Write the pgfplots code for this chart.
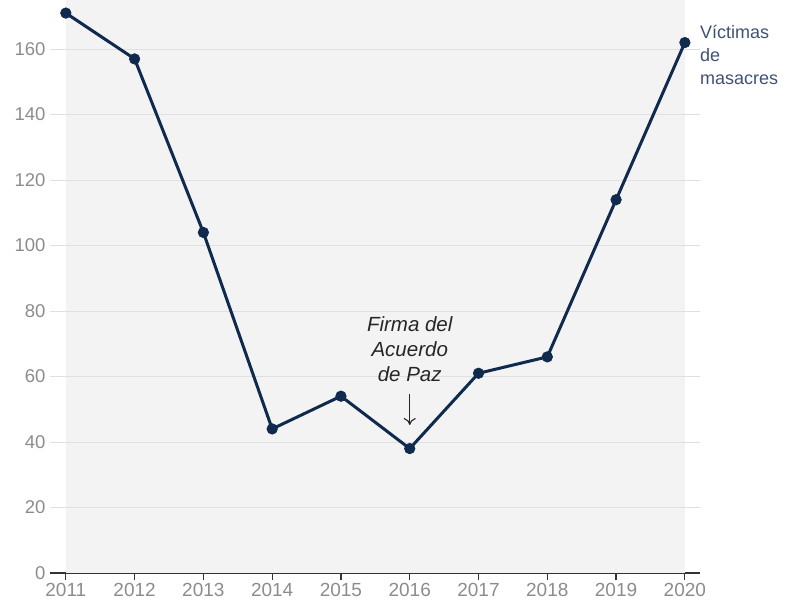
\documentclass[border=0pt]{standalone}
\usepackage{fontspec}
\setmainfont{Liberation Sans}
\usepackage{pgfplots}
\pgfplotsset{compat=1.18}
\usetikzlibrary{arrows.meta}
\definecolor{navy}{HTML}{0F2A4D}
\definecolor{slate}{HTML}{3E5273}
\definecolor{tickgray}{HTML}{8C8C8C}
\definecolor{gridgray}{HTML}{E0E0E0}
\definecolor{bggray}{HTML}{F3F3F3}
\definecolor{axisgray}{HTML}{333333}
\begin{document}
\begin{tikzpicture}[x=1pt,y=1pt]
\begin{axis}[
  at={(0,0)}, anchor=south west,
  scale only axis, width=650pt, height=573pt,
  xmin=2010.77, xmax=2020.22, ymin=0, ymax=175,
  clip=false,
  axis x line*=bottom, axis y line*=left,
  y axis line style={draw=none},
  x axis line style={draw=axisgray, line width=1.2pt, -},
  xtick={2011,...,2020},
  ytick={0,20,...,160},
  xtick align=outside,
  major x tick style={draw=axisgray, line width=1.2pt},
  major y tick style={draw=none},
  major tick length=7pt,
  /pgf/number format/assume math mode=true,
  xticklabel style={/pgf/number format/1000 sep={}, text=tickgray, font=\fontsize{19}{22}\selectfont, yshift=0pt},
  yticklabel style={text=tickgray, font=\fontsize{18.5}{22}\selectfont, xshift=-1pt},
]
\addplot[draw=none, fill=bggray, forget plot] coordinates {(2011,0) (2011,175) (2020,175) (2020,0)} \closedcycle;
\foreach \yy in {20,40,...,160} {
  \edef\tmp{\noexpand\draw[gridgray, line width=1pt] (axis cs:2010.77,\yy) -- (axis cs:2020.22,\yy);}
  \tmp
}
\addplot[navy, line width=3pt, mark=*, mark size=5.3pt, mark options={solid, fill=navy, draw=navy, line width=0.6pt}] coordinates {
(2011,171) (2012,157) (2013,104) (2014,44) (2015,54) (2016,38) (2017,61) (2018,66) (2019,114) (2020,162)
};
\node[align=center, font=\itshape\fontsize{20.5}{25}\selectfont, text=black!85] at (axis cs:2016,68.3) {Firma del\\Acuerdo\\de Paz};
\draw[-{To[length=7pt,width=12pt]}, black!85, line width=1.1pt] (axis cs:2016,54.8) -- (axis cs:2016,45.2);
\node[align=left, anchor=north west, inner sep=0pt, font=\fontsize{18}{23}\selectfont, text=slate] at (axis cs:2020.22,167.5) {Víctimas\\de\\masacres};
\end{axis}
\pgfresetboundingbox
\path[use as bounding box] (-50,-36) rectangle (748,573);
\end{tikzpicture}
\end{document}
